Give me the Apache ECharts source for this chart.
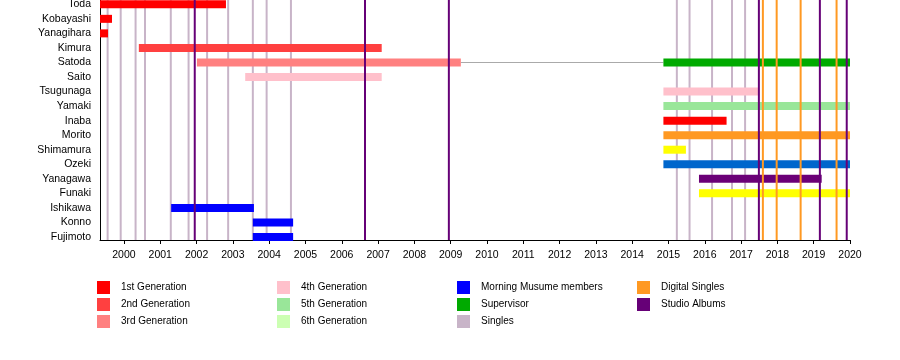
<!DOCTYPE html>
<html>
<head>
<meta charset="utf-8">
<script src="https://cdn.jsdelivr.net/npm/echarts@6/dist/echarts.min.js"></script>
<style>
html,body{margin:0;padding:0;background:#fff;}
#chart{width:900px;height:360px;}
</style>
</head>
<body>
<div id="chart"></div>
<script>
// ---------- data ----------
const members = ['Toda','Kobayashi','Yanagihara','Kimura','Satoda','Saito','Tsugunaga','Yamaki','Inaba','Morito','Shimamura','Ozeki','Yanagawa','Funaki','Ishikawa','Konno','Fujimoto'];
const yearTicks = [2000,2001,2002,2003,2004,2005,2006,2007,2008,2009,2010,2011,2012,2013,2014,2015,2016,2017,2018,2019,2020];
const axisStart = 1999.34;
const axisEnd = 2020.0;

// membership spans
const spanMember = ['Toda','Kobayashi','Yanagihara','Kimura','Satoda','Saito','Tsugunaga','Yamaki','Inaba','Morito','Shimamura','Ozeki','Yanagawa','Funaki','Ishikawa','Konno','Fujimoto','Satoda','Satoda'];
const spanStart  = [1999.34,1999.34,1999.34,2000.41,2002.01,2003.34,2014.86,2014.86,2014.86,2014.86,2014.86,2014.86,2015.84,2015.84,2001.30,2003.55,2003.55,2014.86,2009.28];
const spanEnd    = [2002.81,1999.67,1999.56,2007.10,2009.28,2007.10,2017.50,2020.00,2016.60,2020.00,2015.48,2020.00,2019.22,2020.00,2003.58,2004.66,2004.66,2020.00,2014.86];
const spanGroup  = ['1st Generation','1st Generation','1st Generation','2nd Generation','3rd Generation','4th Generation','4th Generation','5th Generation','1st Generation','Orange','Yellow','Blue','Purple','Yellow','Morning Musume members','Morning Musume members','Morning Musume members','Supervisor','Gap'];

// release markers (dates as decimal years)
const singles = [1999.55,1999.91,2000.32,2000.58,2001.29,2001.78,2002.29,2002.87,2003.55,2003.93,2004.60,2015.23,2015.58,2016.20,2016.75,2017.11];
const studioAlbums = [2001.95,2006.64,2008.95,2017.49,2019.17,2019.91];
const digitalSingles = [2017.60,2017.98,2018.64,2019.63];

// ---------- styles ----------
const FONT = "'Liberation Sans', Arial, Helvetica, sans-serif";
const groupColor = {
  '1st Generation':'#FF0000',
  '2nd Generation':'#FF4040',
  '3rd Generation':'#FF8080',
  '4th Generation':'#FFC0CB',
  '5th Generation':'#99E699',
  '6th Generation':'#CCFFB3',
  'Morning Musume members':'#0000FF',
  'Supervisor':'#00AA00',
  'Orange':'#FF9922',
  'Yellow':'#FFFF00',
  'Blue':'#0066CC',
  'Purple':'#6B0077',
  'Gap':'#AAAAAA'
};
const lineColor = {
  'Singles':'#C8B4C8',
  'Digital Singles':'#FF9922',
  'Studio Albums':'#660077'
};
const BAR_H = 8;

function barRender(thickness){
  return function(params, api){
    const row = api.value(2);
    const p0 = api.coord([api.value(0), row]);
    const p1 = api.coord([api.value(1), row]);
    return {
      type:'rect',
      shape:{x:p0[0], y:p0[1]-thickness/2, width:p1[0]-p0[0], height:thickness},
      style:{fill: api.visual('color')}
    };
  };
}
function vlineRender(params, api){
  const a = api.coord([api.value(0), 0]);
  const b = api.coord([api.value(0), 1]);
  return {
    type:'line',
    shape:{x1:a[0], y1:a[1], x2:b[0], y2:b[1]},
    style:{stroke: api.visual('color'), lineWidth:2}
  };
}

const series = [];
function addLines(name, values, z){
  series.push({
    name, type:'custom', xAxisIndex:0, yAxisIndex:0, z,
    itemStyle:{color: lineColor[name]},
    encode:{x:0, y:1},
    data: values.map(v => [v, 0]),
    renderItem: vlineRender,
    silent:true
  });
}
addLines('Singles', singles, 1);

const groups = ['1st Generation','2nd Generation','3rd Generation','4th Generation','5th Generation','6th Generation','Morning Musume members','Supervisor','Orange','Yellow','Blue','Purple','Gap'];
groups.forEach(g => {
  const data = [];
  spanGroup.forEach((sg, i) => {
    if (sg === g) data.push([spanStart[i], spanEnd[i], members.indexOf(spanMember[i])]);
  });
  series.push({
    name:g, type:'custom', xAxisIndex:1, yAxisIndex:1, z: g === 'Gap' ? 2 : 3,
    itemStyle:{color: groupColor[g]},
    encode:{x:[0,1], y:2},
    data,
    renderItem: barRender(g === 'Gap' ? 1 : BAR_H),
    silent:true
  });
});
addLines('Studio Albums', studioAlbums, 4);
addLines('Digital Singles', digitalSingles, 4);

function legendCol(left, names){
  return {
    left, top:281, padding:0, orient:'vertical',
    itemWidth:13, itemHeight:13, itemGap:4, icon:'rect',
    selectedMode:false,
    textStyle:{fontFamily:FONT, fontSize:10, color:'#000', padding:[7,0,0,6]},
    data:names
  };
}

const chart = echarts.init(document.getElementById('chart'), null, {renderer:'canvas'});
chart.setOption({
  animation:false,
  backgroundColor:'#fff',
  grid:[
    {left:100, right:50, top:0, height:240, outerBoundsMode:'none', containLabel:false},
    {left:100, right:50, top:-2.97, height:247.2, outerBoundsMode:'none', containLabel:false}
  ],
  xAxis:[
    {gridIndex:0, type:'value', min:axisStart, max:axisEnd,
      axisLine:{show:true, onZero:false, lineStyle:{color:'#000', width:1}},
      axisTick:{show:true, customValues:yearTicks, length:4, lineStyle:{color:'#000'}},
      axisLabel:{show:true, customValues:yearTicks, color:'#000', fontSize:10.5, fontFamily:FONT, margin:10,
        formatter: v => String(Math.round(v))},
      splitLine:{show:false}},
    {gridIndex:1, type:'value', min:axisStart, max:axisEnd, show:false}
  ],
  yAxis:[
    {gridIndex:0, type:'value', min:0, max:1,
      axisLine:{show:true, onZero:false, lineStyle:{color:'#000', width:1}},
      axisTick:{show:false}, axisLabel:{show:false}, splitLine:{show:false}},
    {gridIndex:1, type:'category', inverse:true, data:members,
      axisLine:{show:false}, axisTick:{show:false}, splitLine:{show:false},
      axisLabel:{interval:0, color:'#000', fontSize:10.5, fontFamily:FONT, margin:9}}
  ],
  legend:[
    legendCol(97, ['1st Generation','2nd Generation','3rd Generation']),
    legendCol(277, ['4th Generation','5th Generation','6th Generation']),
    legendCol(457, ['Morning Musume members','Supervisor','Singles']),
    legendCol(637, ['Digital Singles','Studio Albums'])
  ],
  series
});
</script>
</body>
</html>
